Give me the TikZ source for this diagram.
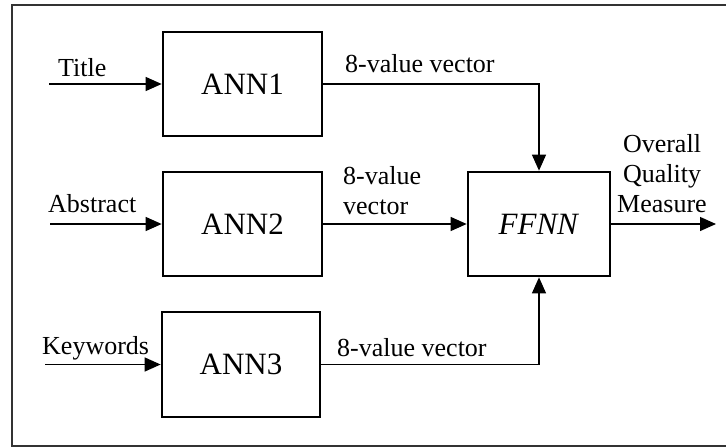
\documentclass[tikz,border=0pt]{standalone}
\usepackage{fontspec}
\setmainfont{Liberation Serif}
\usepackage{tikz}
\usetikzlibrary{positioning,calc,arrows.meta}

\begin{document}
\begin{tikzpicture}[
	x=1pt, y=-1pt, % pixel coordinates, y going down
	net/.style={
		draw=black, line width=2.7pt,
		minimum width=159pt, minimum height=104pt,
		inner sep=0pt,
		font=\fontsize{31}{34}\selectfont,
		anchor=center
	},
	lbl/.style={
		inner sep=0pt,
		font=\fontsize{26}{30}\selectfont
	},
	conn/.style={
		-{Triangle[length=16pt, width=14pt]}, line width=1.3pt, black
	},
	frame/.style={
		draw=black!80, line width=2pt
	}
	]
	\clip (0,0) rectangle (726,447);
	% outer frame (open to the right)
	\draw[frame] (760,5) -- (12,5) -- (12,446) -- (760,446);
	
	% networks
	\node[net] (ann1) at (242.5,84) {ANN1};
	\node[net] (ann2) at (242.5,224) {ANN2};
	\node[net, minimum width=158pt, minimum height=105pt] (ann3) at (241,364.5) {ANN3};
	\node[net, minimum width=142pt] (ffnn) at (539,224) {\textit{FFNN}};
	
	% inputs
	\coordinate (in1) at (49,84);
	\coordinate (in2) at (50,224);
	\coordinate (in3) at (45,364.5);
	\coordinate (out) at (716,224);
	
	\node[lbl, anchor=base west] (ttl) at (58,76) {Title};
	\node[lbl, anchor=base west] (abs) at (48,212) {Abstract};
	\node[lbl, anchor=base west] (kw) at (42,354) {Keywords};
	
	\draw[conn] (in1) -- (ann1.west);
	\draw[conn] (in2) -- (ann2.west);
	\draw[conn] (in3) -- (ann3.west);
	
	% vectors into FFNN
	\draw[conn] (ann1.east) -| (ffnn.north);
	\draw[conn] (ann2.east) -- (ffnn.west);
	\draw[conn] (ann3.east) -| (ffnn.south);
	\draw[conn] (ffnn.east) -- (out);
	
	\node[lbl, anchor=base west] (v1) at (345,72) {8-value vector};
	\node[lbl, anchor=south west, align=left] (v2) at (343,215) {8-value\\vector};
	\node[lbl, anchor=base west] (v3) at (337,356) {8-value vector};
	\node[lbl, anchor=south, align=center] (oqm) at (662,213) {Overall\\Quality\\Measure};
	
\end{tikzpicture}
\end{document}
